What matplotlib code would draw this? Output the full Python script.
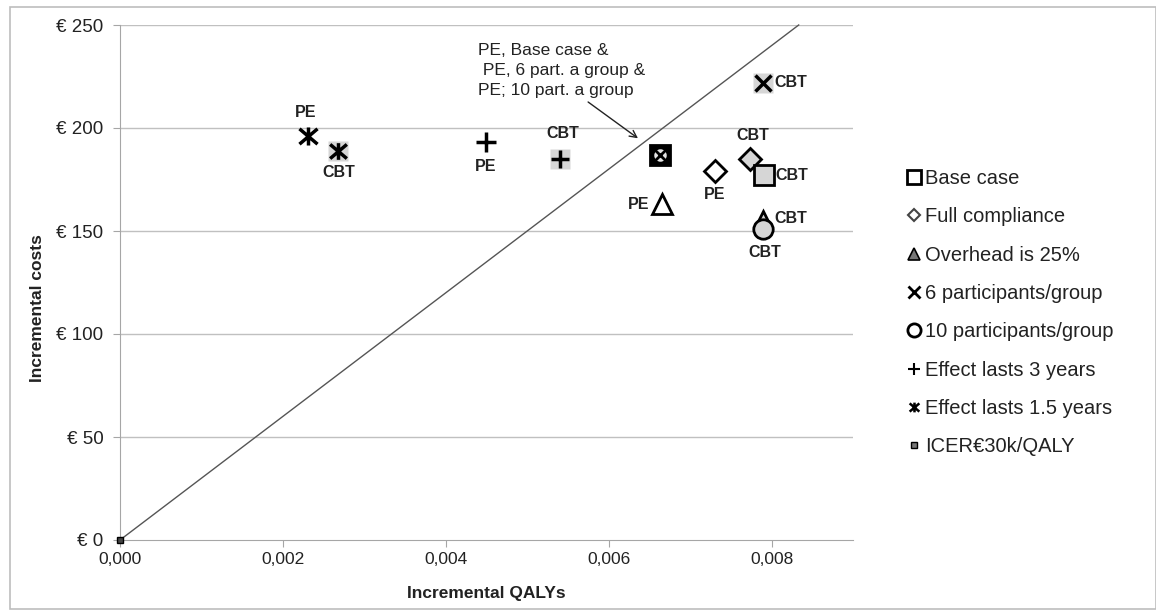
import numpy as np
import matplotlib.pyplot as plt
from matplotlib.lines import Line2D
from matplotlib.patches import Rectangle
from matplotlib.path import Path

plt.rcParams['font.family'] = ['Liberation Sans', 'DejaVu Sans']

# scenario results (incremental QALYs, incremental costs in euro)
scenarios = ['Base case', 'Full compliance', 'Overhead is 25%', '6 participants/group',
             '10 participants/group', 'Effect lasts 3 years', 'Effect lasts 1.5 years']
pe_qaly = [0.00663, 0.00730, 0.00665, 0.00663, 0.00663, 0.00449, 0.00231]
pe_cost = [187, 179, 163, 187, 187, 193, 196]
cbt_qaly = [0.00791, 0.00773, 0.00790, 0.00790, 0.00790, 0.00540, 0.00268]
cbt_cost = [177, 185, 156, 222, 151, 185, 189]

icer = 30000  # euro per QALY
icer_x = [0.0, 250 / icer]
icer_y = [0, 250]

xticks = [0.000, 0.002, 0.004, 0.006, 0.008]
yticks = [0, 50, 100, 150, 200, 250]

# x with a vertical bar, like the excel "star" marker
star = Path([(-1, -0.85), (1, 0.85), (-1, 0.85), (1, -0.85), (0, -1), (0, 1)],
            [Path.MOVETO, Path.LINETO] * 3)

gray = '#d6d6d6'
fig = plt.figure(figsize=(11.56, 6.11), dpi=100)
fig.patches.append(Rectangle((10/1156, 2/611), 1 - 10/1156, 602/611, transform=fig.transFigure,
                             fill=False, edgecolor='#bdbdbd', lw=1.2))
ax = fig.add_axes([120/1156, 71/611, 733/1156, 515/611])

ax.set_xlim(0, 0.009)
ax.set_ylim(0, 250)
for y in yticks[1:]:
    ax.axhline(y, color='#c0c0c0', lw=1, zorder=0)
for s in ['top', 'right']:
    ax.spines[s].set_visible(False)
for s in ['left', 'bottom']:
    ax.spines[s].set_color('#a6a6a6')
ax.tick_params(colors='#a6a6a6', length=5, labelcolor='#222222', labelsize=12.5)
ax.tick_params(axis='y', labelsize=13.5, pad=7)
ax.set_xticks(xticks)
ax.set_xticklabels([('%.3f' % v).replace('.', ',') for v in xticks])
ax.set_yticks(yticks)
ax.set_yticklabels(['€ %d' % v for v in yticks])
ax.set_xlabel('Incremental QALYs', fontsize=12.5, fontweight='bold', color='#222222', labelpad=14)
ax.set_ylabel('Incremental costs', fontsize=12.5, fontweight='bold', color='#222222')
ax.yaxis.set_label_coords(-0.103, 0.45)

# ICER threshold line
ax.plot(icer_x, icer_y, color='#555555', lw=1, zorder=2, clip_on=False)
ax.plot([0], [0], marker='s', ms=5, mfc='#444444', mec='black', ls='none', zorder=6, clip_on=False)

ms = 14
k = 'black'
# base case
ax.plot(cbt_qaly[0], cbt_cost[0], 's', ms=ms, mfc=gray, mec=k, mew=2, zorder=5)
# full compliance
ax.plot(pe_qaly[1], pe_cost[1], 'D', ms=11, mfc='white', mec=k, mew=2, zorder=4)
ax.plot(cbt_qaly[1], cbt_cost[1], 'D', ms=11, mfc=gray, mec=k, mew=2, zorder=4)
# overhead 25%
ax.plot(pe_qaly[2], pe_cost[2], '^', ms=14, mfc='white', mec=k, mew=2, zorder=4)
ax.plot(cbt_qaly[2], cbt_cost[2], '^', ms=12, mfc=gray, mec=k, mew=2, zorder=4)
# 6 participants
ax.plot(cbt_qaly[3], cbt_cost[3], 's', ms=15, mfc=gray, mec='none', zorder=3)
ax.plot(cbt_qaly[3], cbt_cost[3], 'x', ms=11, mec=k, mew=2.5, zorder=4)
# 10 participants
ax.plot(cbt_qaly[4], cbt_cost[4], 'o', ms=14, mfc=gray, mec=k, mew=2, zorder=5)
# PE base case / 6 part. / 10 part. coincide
ax.plot(pe_qaly[0], pe_cost[0], 's', ms=14, mfc=k, mec=k, mew=2, zorder=4)
ax.plot(pe_qaly[4], pe_cost[4], 'o', ms=9, mfc='#e6e6e6', mec='none', zorder=5)
ax.plot(pe_qaly[3], pe_cost[3], 'x', ms=8, mec=k, mew=2, zorder=6)
# effect 3 years
ax.plot(pe_qaly[5], pe_cost[5], '+', ms=14, mec=k, mew=2.5, zorder=4)
ax.plot(cbt_qaly[5], cbt_cost[5], 's', ms=15, mfc=gray, mec='none', zorder=3)
ax.plot(cbt_qaly[5], cbt_cost[5], '+', ms=13, mec=k, mew=2.5, zorder=4)
# effect 1.5 years
ax.plot(pe_qaly[6], pe_cost[6], marker=star, ms=13, mec=k, mew=2.5, ls='none', zorder=4)
ax.plot(cbt_qaly[6], cbt_cost[6], 's', ms=15, mfc=gray, mec='none', zorder=3)
ax.plot(cbt_qaly[6], cbt_cost[6], marker=star, ms=12, mec=k, mew=2.5, ls='none', zorder=4)

lab = dict(fontsize=11.5, fontweight='bold', color='#222222', textcoords='offset points')
ax.annotate('PE', (pe_qaly[6], pe_cost[6]), xytext=(-2, 17), ha='center', va='center', **lab)
ax.annotate('CBT', (cbt_qaly[6], cbt_cost[6]), xytext=(0, -16), ha='center', va='center', **lab)
ax.annotate('PE', (pe_qaly[5], pe_cost[5]), xytext=(0, -17), ha='center', va='center', **lab)
ax.annotate('CBT', (cbt_qaly[5], cbt_cost[5]), xytext=(2, 18), ha='center', va='center', **lab)
ax.annotate('PE', (pe_qaly[2], pe_cost[2]), xytext=(-9, 0), ha='right', va='center', **lab)
ax.annotate('PE', (pe_qaly[1], pe_cost[1]), xytext=(0, -17), ha='center', va='center', **lab)
ax.annotate('CBT', (cbt_qaly[1], cbt_cost[1]), xytext=(2, 17), ha='center', va='center', **lab)
ax.annotate('CBT', (cbt_qaly[0], cbt_cost[0]), xytext=(8, 0), ha='left', va='center', **lab)
ax.annotate('CBT', (cbt_qaly[2], cbt_cost[2]), xytext=(8, 0), ha='left', va='center', **lab)
ax.annotate('CBT', (cbt_qaly[4], cbt_cost[4]), xytext=(1, -17), ha='center', va='center', **lab)
ax.annotate('CBT', (cbt_qaly[3], cbt_cost[3]), xytext=(8, 0), ha='left', va='center', **lab)

ax.annotate('PE, Base case &\n PE, 6 part. a group &\nPE; 10 part. a group',
            xy=(0.00636, 195), xytext=(0.0044, 241.5), ha='left', va='top',
            fontsize=12.5, color='#222222', linespacing=1.42,
            arrowprops=dict(arrowstyle='->', color='#222222', lw=1, shrinkA=2, shrinkB=0,
                            relpos=(0.62, 0.0)))

handles = [
    Line2D([], [], ls='none', marker='s', ms=10, mfc='white', mec=k, mew=2),
    Line2D([], [], ls='none', marker='D', ms=6.5, mfc='white', mec='#444444', mew=1.5),
    Line2D([], [], ls='none', marker='^', ms=9, mfc='#777777', mec=k, mew=1.2),
    Line2D([], [], ls='none', marker='x', ms=9, mec=k, mew=2),
    Line2D([], [], ls='none', marker='o', ms=9.5, mfc='white', mec=k, mew=2),
    Line2D([], [], ls='none', marker='+', ms=9, mec=k, mew=1.5),
    Line2D([], [], ls='none', marker=star, ms=7, mec=k, mew=1.8),
    Line2D([], [], ls='none', marker='s', ms=5, mfc='#777777', mec=k, mew=1),
]
fig.legend(handles, scenarios + ['ICER€30k/QALY'], loc='upper left', bbox_to_anchor=(905/1156, 1 - 169/611),
           frameon=False, fontsize=14.5, handlelength=0.9, handletextpad=0.1, labelspacing=0.96,
           labelcolor='#222222', borderaxespad=0, borderpad=0)

fig.savefig('out.png', dpi=100)
